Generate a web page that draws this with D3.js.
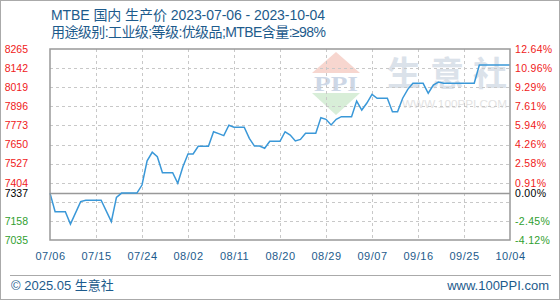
<!DOCTYPE html>
<html>
<head>
<meta charset="utf-8">
<script src="https://cdn.jsdelivr.net/npm/d3@7"></script>
<style>
  body { margin: 0; background: #fff; }
  svg { display: block; }
</style>
</head>
<body>
<script>
// price points (yuan/ton)
var dates = ["2023-07-06","2023-07-07","2023-07-09","2023-07-10","2023-07-12","2023-07-13","2023-07-16",
             "2023-07-18","2023-07-19","2023-07-20","2023-07-23","2023-07-24","2023-07-25","2023-07-26",
             "2023-07-27","2023-07-28","2023-07-30","2023-07-31","2023-08-01","2023-08-02","2023-08-03",
             "2023-08-04","2023-08-06","2023-08-07","2023-08-08","2023-08-09","2023-08-10","2023-08-11",
             "2023-08-13","2023-08-14","2023-08-15","2023-08-16","2023-08-17","2023-08-18","2023-08-20",
             "2023-08-21","2023-08-22","2023-08-23","2023-08-24","2023-08-25","2023-08-27","2023-08-28",
             "2023-08-29","2023-08-30","2023-08-31","2023-09-01","2023-09-03","2023-09-04","2023-09-05",
             "2023-09-06","2023-09-07","2023-09-08","2023-09-10","2023-09-11","2023-09-12","2023-09-13",
             "2023-09-14","2023-09-15","2023-09-17","2023-09-18","2023-09-19","2023-09-20","2023-09-21",
             "2023-09-27","2023-09-28","2023-10-04"];
var prices = [7337,7217,7217,7138,7282,7291,7291,
              7153,7310,7337,7337,7389,7545,7600,
              7571,7468,7468,7400,7507,7589,7589,
              7638,7638,7732,7720,7707,7774,7761,
              7761,7690,7640,7640,7626,7671,7671,
              7732,7711,7673,7683,7722,7722,7822,
              7812,7776,7812,7829,7829,7930,7872,
              7917,7973,7948,7948,7861,7861,7948,
              8005,8044,8044,7980,8033,8052,8044,
              8044,8162,8162];

var base_price = 7337;
var grid_values = [8265,8142,8019,7896,7773,7650,7527,7404,7281,7158,7035];
var left_labels = [8265,8142,8019,7896,7773,7650,7527,7404,7337,7158,7035];
var right_labels = ["12.64%","10.96%","9.29%","7.61%","5.94%","4.26%","2.58%","0.91%","0.00%","-2.45%","-4.12%"];
var x_tick_dates = ["2023-07-06","2023-07-15","2023-07-24","2023-08-02","2023-08-11","2023-08-20",
                    "2023-08-29","2023-09-07","2023-09-16","2023-09-25","2023-10-04"];

var title = "MTBE 国内 生产价 2023-07-06 - 2023-10-04";
var subtitle = "用途级别:工业级;等级:优级品;MTBE含量:≥98%";

var width = 560, height = 300;
var plot_l = 50, plot_r = 510, plot_t = 49, plot_b = 240;
var blue_text = "#1d5b8c";
var font = "'Liberation Sans', 'Noto Sans CJK SC', sans-serif";

var parse = d3.timeParse("%Y-%m-%d");
var data = dates.map(function(d, i) { return { date: parse(d), value: prices[i] }; });

var svg = d3.select("body").append("svg")
    .attr("width", width)
    .attr("height", height)
    .style("font-family", font);

var x_scale = d3.scaleTime()
    .domain([parse(x_tick_dates[0]), parse(x_tick_dates[x_tick_dates.length - 1])])
    .range([plot_l, plot_r]);

var y_scale = d3.scaleLinear()
    .domain([7035, 8265])
    .range([plot_b, plot_t]);

function label_color(v)
{
  if (v > base_price) return "#f02020";
  if (v < base_price) return "#2fa02f";
  return "#000";
}

// outer frame
svg.append("rect")
   .attr("x", 0.5).attr("y", 0.5)
   .attr("width", width - 1).attr("height", height - 1)
   .attr("fill", "none").attr("stroke", "#aaa");

// titles
svg.append("text")
   .attr("x", 51).attr("y", 20)
   .attr("font-size", 14)
   .attr("fill", blue_text)
   .attr("textLength", 274).attr("lengthAdjust", "spacing")
   .text(title);

svg.append("text")
   .attr("x", 51).attr("y", 37)
   .attr("font-size", 14)
   .attr("fill", blue_text)
   .attr("textLength", 275).attr("lengthAdjust", "spacing")
   .text(subtitle);

// watermark
var wm = svg.append("g");
wm.append("polygon")
  .attr("points", [[312,73],[360,73],[336,52]].join(" "))
  .attr("fill", "#f7d6cf");
wm.append("polygon")
  .attr("points", [[312,93],[360,93],[336,115]].join(" "))
  .attr("fill", "#d8eed8");
wm.append("text")
  .attr("x", 336).attr("y", 91)
  .attr("text-anchor", "middle")
  .attr("font-size", 22).attr("font-weight", "bold")
  .attr("font-family", "'Liberation Serif', serif")
  .attr("fill", "#cdd7e6")
  .attr("textLength", 44).attr("lengthAdjust", "spacingAndGlyphs")
  .text("PPI");
wm.append("text")
  .attr("x", 387).attr("y", 86)
  .attr("font-size", 34).attr("font-weight", "bold")
  .attr("fill", "#dbe2ea")
  .attr("textLength", 120).attr("lengthAdjust", "spacing")
  .text("生意社");
wm.append("text")
  .attr("x", 402).attr("y", 108)
  .attr("font-size", 10)
  .attr("fill", "#e3e3e3")
  .attr("textLength", 105).attr("lengthAdjust", "spacingAndGlyphs")
  .text("WWW.100PPI.COM");

// grid
svg.append("g").selectAll("line")
   .data(grid_values.slice(1, -1))
   .enter()
   .append("line")
   .attr("x1", plot_l).attr("x2", plot_r)
   .attr("y1", function(d) { return Math.round(y_scale(d)) + 0.5; })
   .attr("y2", function(d) { return Math.round(y_scale(d)) + 0.5; })
   .attr("stroke", "#c8c8c8")
   .attr("stroke-dasharray", "3,3");

svg.append("g").selectAll("line")
   .data(x_tick_dates.slice(1, -1))
   .enter()
   .append("line")
   .attr("x1", function(d) { return Math.round(x_scale(parse(d))) + 0.5; })
   .attr("x2", function(d) { return Math.round(x_scale(parse(d))) + 0.5; })
   .attr("y1", plot_t).attr("y2", plot_b)
   .attr("stroke", "#c8c8c8")
   .attr("stroke-dasharray", "3,3");

// base line
svg.append("line")
   .attr("x1", plot_l).attr("x2", plot_r)
   .attr("y1", Math.round(y_scale(base_price)) + 0.5)
   .attr("y2", Math.round(y_scale(base_price)) + 0.5)
   .attr("stroke", "#999").attr("stroke-width", 1.5);

// price line
var line = d3.line()
    .x(function(d) { return x_scale(d.date); })
    .y(function(d) { return y_scale(d.value); });

svg.append("path")
   .datum(data)
   .attr("d", line)
   .attr("fill", "none")
   .attr("stroke", "#3a98d8")
   .attr("stroke-width", 1.5);

// plot frame
svg.append("rect")
   .attr("x", plot_l).attr("y", plot_t)
   .attr("width", plot_r - plot_l).attr("height", plot_b - plot_t)
   .attr("fill", "none").attr("stroke", "#999").attr("stroke-width", 1.5);

// axes
var left_axis = d3.axisLeft(y_scale).tickValues(left_labels).tickSize(0).tickPadding(22)
    .tickFormat(d3.format("d"));
var lg = svg.append("g").attr("transform", "translate(" + plot_l + ",0)").call(left_axis);
lg.select(".domain").remove();
lg.selectAll("text")
  .attr("font-size", 10.5).attr("font-family", font)
  .attr("fill", function(d) { return label_color(d); });

var right_axis = d3.axisRight(y_scale).tickValues(left_labels).tickSize(0).tickPadding(5)
    .tickFormat(function(d, i) { return right_labels[i]; });
var rg = svg.append("g").attr("transform", "translate(" + plot_r + ",0)").call(right_axis);
rg.select(".domain").remove();
rg.selectAll("text")
  .attr("font-size", 10.5).attr("font-family", font)
  .attr("letter-spacing", 0.3)
  .attr("fill", function(d) { return label_color(d); });

var bottom_axis = d3.axisBottom(x_scale)
    .tickValues(x_tick_dates.map(parse))
    .tickSize(0).tickPadding(12)
    .tickFormat(d3.timeFormat("%m/%d"));
var bg = svg.append("g").attr("transform", "translate(0," + plot_b + ")").call(bottom_axis);
bg.select(".domain").remove();
bg.selectAll("text")
  .attr("font-size", 11).attr("font-family", font)
  .attr("letter-spacing", 0.5)
  .attr("fill", blue_text);

// footer
svg.append("line")
   .attr("x1", 10).attr("x2", 551)
   .attr("y1", 275.5).attr("y2", 275.5)
   .attr("stroke", "#aaa");

svg.append("text")
   .attr("x", 11).attr("y", 290)
   .attr("font-size", 13)
   .attr("fill", blue_text)
   .text("© 2025.05 生意社");

svg.append("text")
   .attr("x", 549).attr("y", 290)
   .attr("text-anchor", "end")
   .attr("font-size", 13)
   .attr("fill", blue_text)
   .text("www.100PPI.com");
</script>
</body>
</html>
